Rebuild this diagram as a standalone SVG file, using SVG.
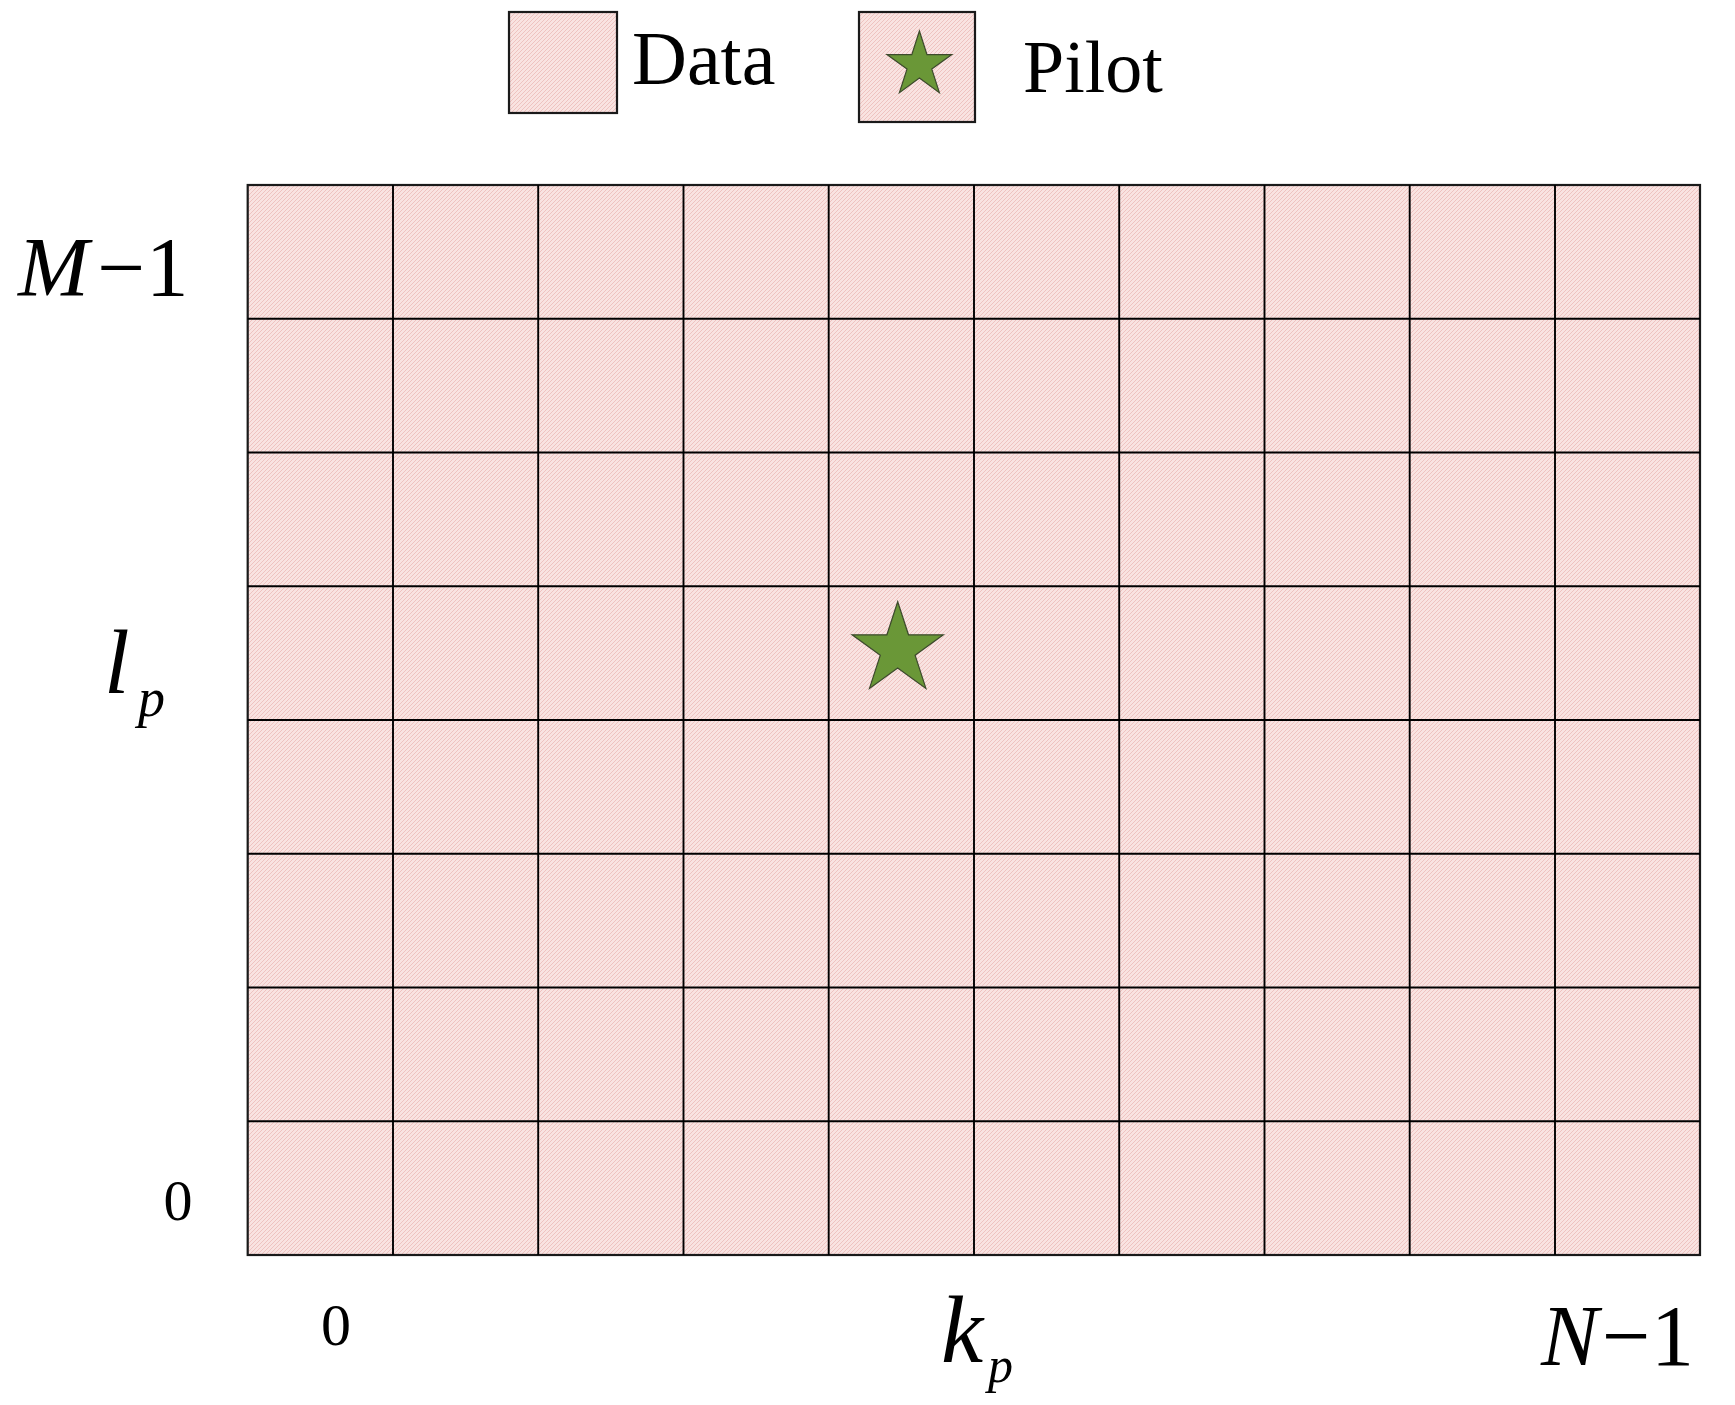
<svg xmlns="http://www.w3.org/2000/svg" width="1735" height="1405" viewBox="0 0 1735 1405">
  <defs>
    <pattern id="hatch" patternUnits="userSpaceOnUse" width="4" height="4">
      <rect width="4" height="4" fill="#f9e3e1"/>
      <path d="M-1,1 L1,-1 M0,4 L4,0 M3,5 L5,3" stroke="#eec3c0" stroke-width="1"/>
    </pattern>
  </defs>
  <style>
    .cell { fill: url(#hatch); stroke: #1a1a1a; stroke-width: 2.2; }
    .gridline { fill: none; stroke: #000; stroke-width: 1.9; }
    .star { fill: #6a9737; stroke: #3d4a2c; stroke-width: 1.2; stroke-linejoin: miter; }
    .t { font-family: "Liberation Serif", "Times New Roman", serif; fill: #000; }
    .it { font-style: italic; }
  </style>
  <rect width="1735" height="1405" fill="#ffffff"/>

  <g id="legend-data">
    <rect class="cell" x="509" y="12" width="108" height="101"/>
    <text class="t" x="632" y="84" font-size="76">Data</text>
  </g>
  <g id="legend-pilot">
    <rect class="cell" x="859" y="12" width="116" height="110"/>
    <polygon class="star" points="919.4,31 927,54.6 951.8,54.6 931.8,69.1 939.4,92.7 919.4,78.1 899.4,92.7 907,69.1 887,54.6 911.8,54.6"/>
    <text class="t" x="1023" y="92" font-size="74">Pilot</text>
  </g>

  <g id="grid">
    <rect class="cell" x="247.7" y="185" width="1452.3" height="1070"/>
    <path class="gridline" d="M393,185V1255 M538.2,185V1255 M683.5,185V1255 M828.7,185V1255 M974,185V1255 M1119.2,185V1255 M1264.5,185V1255 M1409.7,185V1255 M1555,185V1255 M247.7,318.75H1700 M247.7,452.5H1700 M247.7,586.25H1700 M247.7,720H1700 M247.7,853.75H1700 M247.7,987.5H1700 M247.7,1121.25H1700"/>
  </g>

  <g id="pilot">
    <polygon class="star" points="897.7,601.7 908.5,634.8 943.3,634.8 915.1,655.3 925.9,688.4 897.7,667.9 869.5,688.4 880.3,655.3 852.1,634.8 886.9,634.8"/>
  </g>

  <g id="labels">
    <text class="t it" x="18" y="296" font-size="85">M</text>
    <text class="t" x="97" y="296" font-size="85">−</text>
    <text class="t" x="146" y="296" font-size="85">1</text>

    <text class="t it" x="104" y="693" font-size="92">l</text>
    <text class="t it" x="138" y="716" font-size="54">p</text>

    <text class="t" x="178" y="1220" font-size="58" text-anchor="middle">0</text>
    <text class="t" x="336" y="1345" font-size="60" text-anchor="middle">0</text>

    <text class="t it" x="941" y="1362" font-size="95">k</text>
    <text class="t it" x="988" y="1382" font-size="50">p</text>

    <text class="t it" x="1541" y="1365" font-size="86">N</text>
    <text class="t" x="1602" y="1365" font-size="86">−</text>
    <text class="t" x="1651" y="1365" font-size="86">1</text>
  </g>
</svg>
